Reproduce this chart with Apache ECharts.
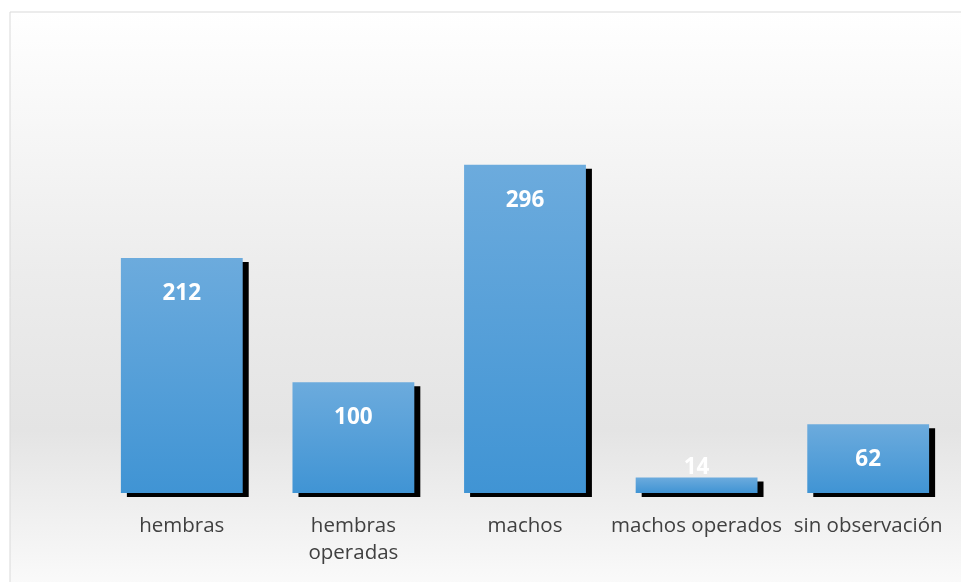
<!DOCTYPE html>
<html>
<head>
<meta charset="utf-8">
<script src="https://cdn.jsdelivr.net/npm/echarts@6/dist/echarts.min.js"></script>
<style>
html, body { margin: 0; padding: 0; background: #fff; }
#chart { width: 961px; height: 582px; }
</style>
</head>
<body>
<div id="chart"></div>
<script>
var categories = ['hembras', 'hembras\noperadas', 'machos', 'machos operados', 'sin observación'];
var values = [212, 100, 296, 14, 62];

var myChart = echarts.init(document.getElementById('chart'));

var barData = values.map(function (v) {
	var item = { value: v };
	// short bars: Excel pushes the label up over the bar top
	if (v < 30) {
		item.label = { position: 'top', distance: -2 };
	}
	return item;
});

option = {
	animation: false,
	textStyle: { fontFamily: 'Open Sans' },
	graphic: [{
		type: 'rect',
		z: -10,
		shape: { x: 10, y: 12, width: 960, height: 580 },
		style: {
			fill: new echarts.graphic.LinearGradient(0, 0, 0, 1, [
				{ offset: 0, color: '#ffffff' },
				{ offset: 0.45, color: '#ececec' },
				{ offset: 0.72, color: '#e4e4e4' },
				{ offset: 1, color: '#fbfbfb' }
			]),
			stroke: '#d9d9d9',
			lineWidth: 1
		}
	}],
	grid: {
		left: 96,
		right: 7,
		top: 105,
		bottom: 89
	},
	xAxis: {
		type: 'category',
		data: categories,
		axisLine: { show: false },
		axisTick: { show: false },
		axisLabel: {
			color: '#404040',
			fontSize: 20.5,
			margin: 20,
			lineHeight: 27,
			interval: 0
		}
	},
	yAxis: {
		type: 'value',
		min: 0,
		max: 350,
		show: false,
		splitLine: { show: false }
	},
	series: [{
		type: 'bar',
		barWidth: '71%',
		data: barData,
		itemStyle: {
			color: new echarts.graphic.LinearGradient(0, 0, 0, 1, [
				{ offset: 0, color: '#6cabdd' },
				{ offset: 1, color: '#4094d4' }
			]),
			shadowColor: '#000',
			shadowBlur: 0,
			shadowOffsetX: 6,
			shadowOffsetY: 4
		},
		label: {
			show: true,
			position: 'insideTop',
			distance: 24,
			color: '#ffffff',
			fontWeight: 'bold',
			fontSize: 22.5
		}
	}]
};

myChart.setOption(option);
</script>
</body>
</html>
